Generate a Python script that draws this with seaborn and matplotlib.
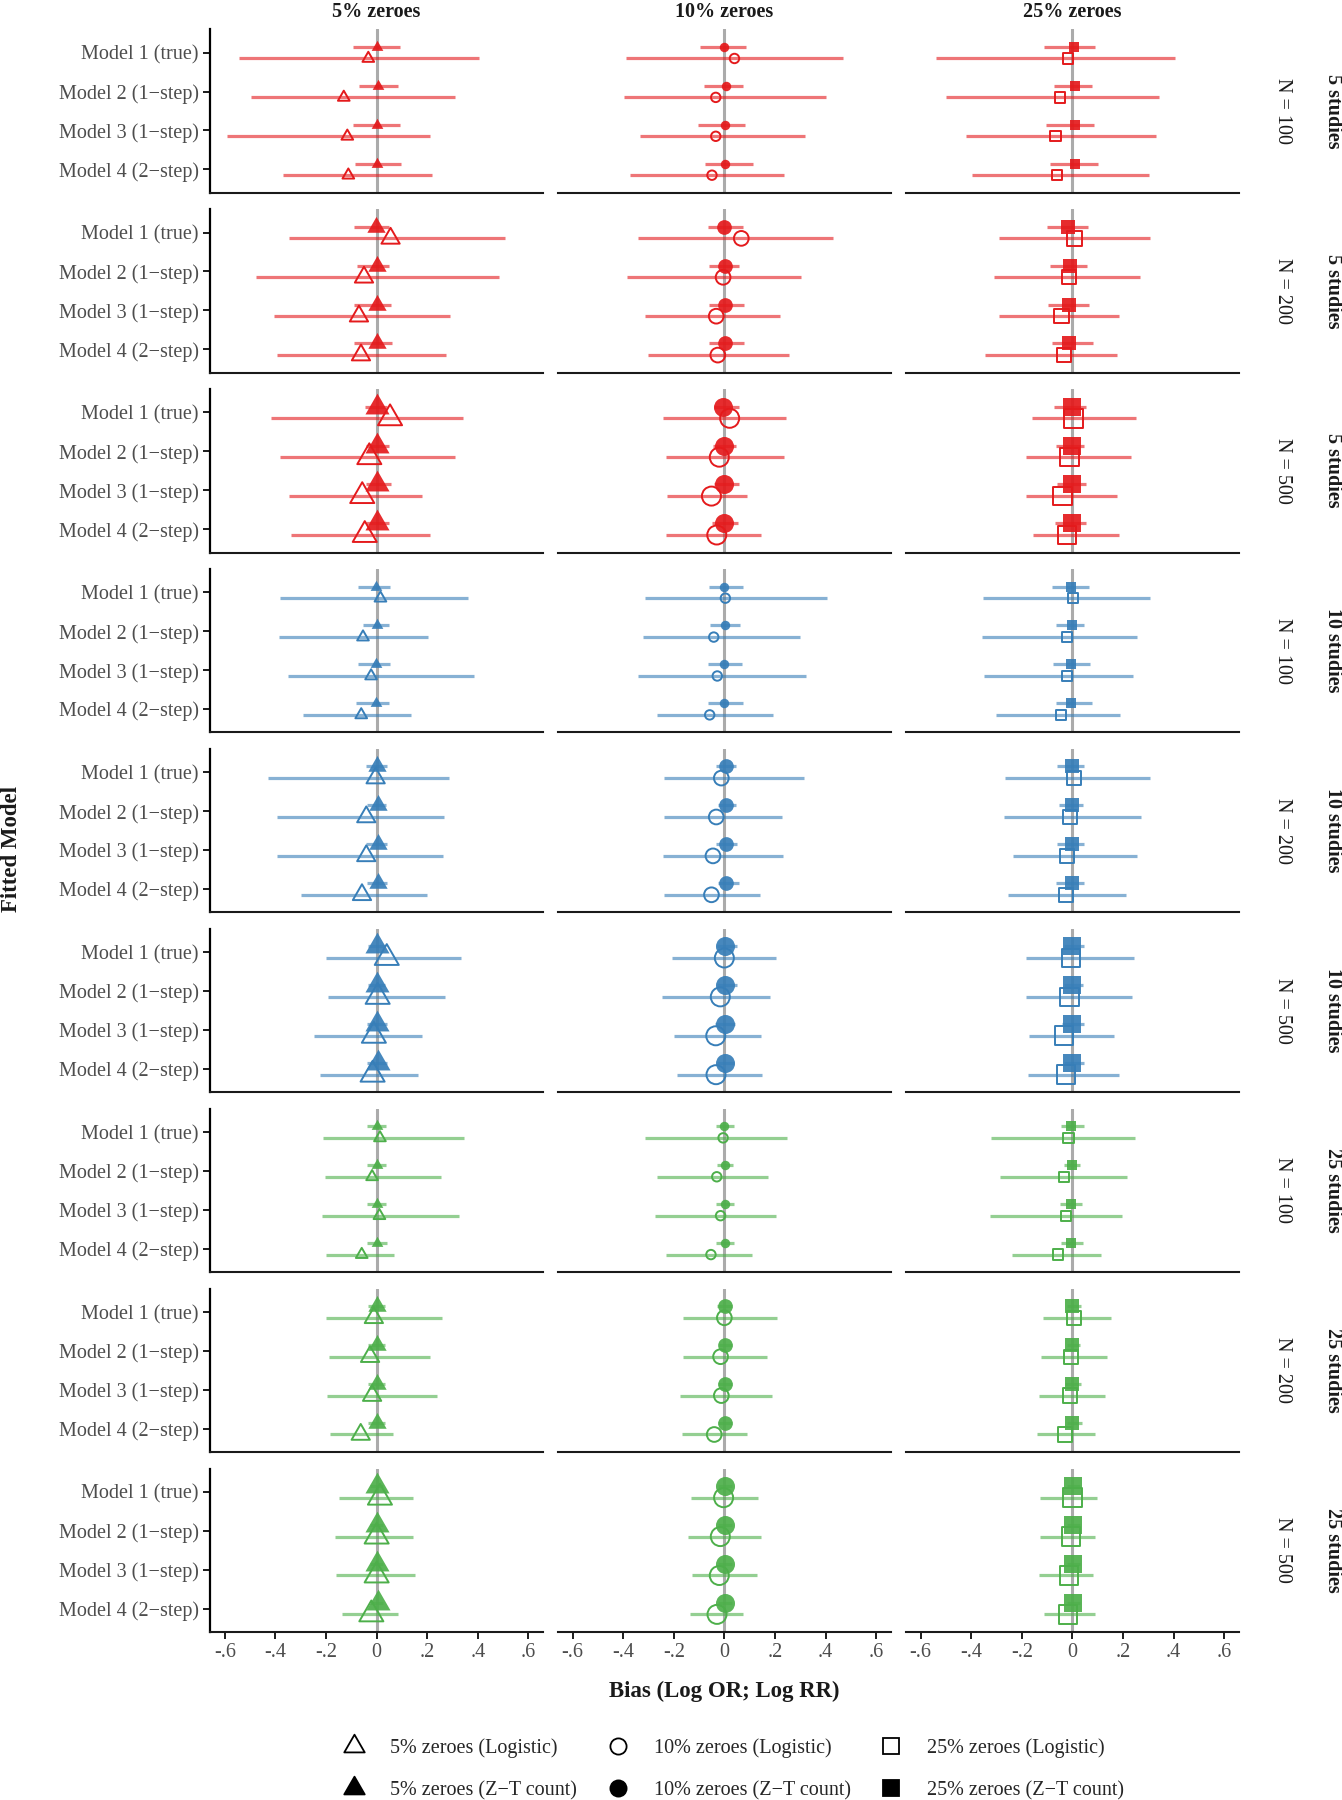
import numpy as np
import pandas as pd
import seaborn as sns
import matplotlib.pyplot as plt
from matplotlib.path import Path
from matplotlib.lines import Line2D

# ---------------------------------------------------------------------------
# data: rows = 9 facets (studies x N), cols = 4 models
# ---------------------------------------------------------------------------
models = ["Model 1 (true)", "Model 2 (1\u2212step)", "Model 3 (1\u2212step)", "Model 4 (2\u2212step)"]
zero_levels = ["5% zeroes", "10% zeroes", "25% zeroes"]
n_studies = ["5 studies"] * 3 + ["10 studies"] * 3 + ["25 studies"] * 3
sample_sizes = [100, 200, 500] * 3
methods = ["Logistic", "Z\u2212T count"]
x_ticks = [-0.6, -0.4, -0.2, 0, 0.2, 0.4, 0.6]
x_ticklabels = ["-.6", "-.4", "-.2", "0", ".2", ".4", ".6"]

# 5% zeroes
est_zt_5 = [[0.000, 0.004, 0.000, 0.000], [-0.004, 0.000, 0.000, 0.000], [0.000, 0.000, 0.000, 0.000],
            [-0.004, 0.000, -0.004, -0.004], [0.000, 0.004, 0.004, 0.004], [0.000, 0.000, 0.000, 0.004],
            [0.000, 0.000, 0.000, 0.000], [0.002, 0.002, 0.002, 0.002], [0.000, 0.000, 0.000, 0.004]]
lo_zt_5 = [[-0.092, -0.071, -0.092, -0.086], [-0.088, -0.078, -0.088, -0.088], [-0.046, -0.044, -0.044, -0.044],
           [-0.073, -0.055, -0.073, -0.080], [-0.042, -0.040, -0.044, -0.040], [-0.033, -0.033, -0.040, -0.040],
           [-0.040, -0.040, -0.040, -0.040], [-0.033, -0.033, -0.033, -0.033], [-0.026, -0.026, -0.026, -0.026]]
hi_zt_5 = [[0.092, 0.086, 0.092, 0.096], [0.050, 0.050, 0.055, 0.062], [0.040, 0.049, 0.055, 0.050],
           [0.053, 0.049, 0.053, 0.050], [0.040, 0.036, 0.040, 0.040], [0.033, 0.033, 0.040, 0.040],
           [0.037, 0.037, 0.037, 0.040], [0.033, 0.033, 0.033, 0.033], [0.026, 0.026, 0.026, 0.026]]
est_lg_5 = [[-0.033, -0.130, -0.116, -0.112], [0.055, -0.050, -0.070, -0.062], [0.053, -0.029, -0.057, -0.047],
            [0.015, -0.054, -0.022, -0.061], [-0.004, -0.041, -0.041, -0.058], [0.040, 0.004, -0.011, -0.016],
            [0.013, -0.018, 0.011, -0.059], [-0.011, -0.026, -0.018, -0.063], [0.013, 0.000, 0.000, -0.021]]
lo_lg_5 = [[-0.543, -0.497, -0.591, -0.372], [-0.348, -0.477, -0.405, -0.396], [-0.418, -0.382, -0.348, -0.338],
           [-0.382, -0.387, -0.352, -0.293], [-0.429, -0.396, -0.394, -0.300], [-0.202, -0.191, -0.248, -0.224],
           [-0.214, -0.204, -0.218, -0.200], [-0.200, -0.187, -0.195, -0.185], [-0.148, -0.165, -0.162, -0.138]]
hi_lg_5 = [[0.403, 0.311, 0.211, 0.220], [0.508, 0.485, 0.290, 0.273], [0.340, 0.311, 0.181, 0.210],
           [0.363, 0.202, 0.385, 0.137], [0.287, 0.266, 0.264, 0.198], [0.334, 0.270, 0.181, 0.162],
           [0.346, 0.255, 0.327, 0.069], [0.258, 0.210, 0.240, 0.065], [0.145, 0.142, 0.151, 0.086]]

# 10% zeroes
est_zt_10 = [[0.000, 0.007, 0.004, 0.004], [0.000, 0.004, 0.003, 0.003], [-0.005, -0.003, -0.003, -0.003],
             [0.000, 0.001, -0.001, -0.001], [0.007, 0.007, 0.007, 0.007], [0.001, 0.003, 0.001, 0.001],
             [0.000, 0.003, 0.001, 0.001], [0.003, 0.004, 0.004, 0.004], [0.003, 0.003, 0.003, 0.003]]
lo_zt_10 = [[-0.098, -0.082, -0.105, -0.078], [-0.064, -0.061, -0.062, -0.062], [-0.042, -0.045, -0.042, -0.049],
            [-0.061, -0.055, -0.063, -0.065], [-0.033, -0.026, -0.032, -0.026], [-0.030, -0.029, -0.036, -0.030],
            [-0.032, -0.029, -0.032, -0.032], [-0.029, -0.023, -0.025, -0.025], [-0.025, -0.025, -0.025, -0.025]]
hi_zt_10 = [[0.084, 0.072, 0.082, 0.112], [0.073, 0.059, 0.077, 0.079], [0.058, 0.048, 0.058, 0.053],
            [0.074, 0.061, 0.070, 0.075], [0.047, 0.045, 0.050, 0.059], [0.050, 0.050, 0.043, 0.040],
            [0.037, 0.034, 0.040, 0.040], [0.030, 0.030, 0.030, 0.030], [0.030, 0.030, 0.030, 0.030]]
est_lg_10 = [[0.040, -0.034, -0.034, -0.049], [0.067, -0.005, -0.032, -0.026], [0.021, -0.020, -0.051, -0.030],
             [0.004, -0.042, -0.028, -0.058], [-0.012, -0.032, -0.045, -0.051], [0.000, -0.016, -0.034, -0.033],
             [-0.005, -0.030, -0.015, -0.053], [0.000, -0.015, -0.012, -0.040], [-0.003, -0.016, -0.020, -0.029]]
lo_lg_10 = [[-0.389, -0.398, -0.332, -0.375], [-0.342, -0.385, -0.313, -0.303], [-0.244, -0.230, -0.227, -0.230],
            [-0.313, -0.322, -0.342, -0.268], [-0.237, -0.240, -0.243, -0.237], [-0.206, -0.245, -0.200, -0.187],
            [-0.313, -0.266, -0.276, -0.231], [-0.162, -0.162, -0.176, -0.166], [-0.131, -0.143, -0.128, -0.136]]
hi_lg_10 = [[0.468, 0.403, 0.319, 0.236], [0.431, 0.302, 0.222, 0.254], [0.244, 0.236, 0.088, 0.146],
            [0.404, 0.299, 0.322, 0.192], [0.314, 0.226, 0.231, 0.140], [0.204, 0.182, 0.144, 0.149],
            [0.248, 0.172, 0.203, 0.110], [0.210, 0.170, 0.188, 0.090], [0.132, 0.143, 0.128, 0.073]]

# 25% zeroes
est_zt_25 = [[0.005, 0.009, 0.009, 0.009], [-0.016, -0.008, -0.013, -0.013], [-0.003, 0.000, 0.000, -0.001],
             [-0.005, -0.001, -0.004, -0.004], [-0.003, 0.000, -0.003, -0.001], [-0.003, -0.001, -0.003, -0.003],
             [-0.004, 0.000, -0.004, -0.004], [-0.001, 0.000, -0.001, 0.000], [0.001, 0.001, 0.001, 0.001]]
lo_zt_25 = [[-0.112, -0.073, -0.106, -0.090], [-0.100, -0.090, -0.096, -0.079], [-0.071, -0.065, -0.062, -0.069],
            [-0.080, -0.064, -0.077, -0.063], [-0.061, -0.051, -0.061, -0.063], [-0.034, -0.034, -0.040, -0.034],
            [-0.045, -0.034, -0.047, -0.046], [-0.021, -0.021, -0.030, -0.021], [-0.020, -0.020, -0.020, -0.020]]
hi_zt_25 = [[0.091, 0.078, 0.087, 0.103], [0.061, 0.058, 0.064, 0.082], [0.054, 0.046, 0.054, 0.055],
            [0.067, 0.046, 0.069, 0.079], [0.045, 0.041, 0.046, 0.048], [0.047, 0.042, 0.045, 0.047],
            [0.045, 0.029, 0.040, 0.042], [0.034, 0.029, 0.034, 0.038], [0.030, 0.030, 0.030, 0.030]]
est_lg_25 = [[-0.016, -0.050, -0.067, -0.061], [0.009, -0.013, -0.043, -0.033], [0.004, -0.012, -0.040, -0.021],
             [0.003, -0.022, -0.022, -0.045], [0.007, -0.008, -0.022, -0.025], [-0.005, -0.012, -0.033, -0.025],
             [-0.015, -0.032, -0.024, -0.057], [0.007, -0.005, -0.008, -0.029], [0.000, -0.005, -0.013, -0.017]]
lo_lg_25 = [[-0.538, -0.500, -0.419, -0.396], [-0.292, -0.308, -0.289, -0.344], [-0.160, -0.183, -0.184, -0.157],
            [-0.353, -0.358, -0.351, -0.300], [-0.268, -0.272, -0.236, -0.255], [-0.183, -0.185, -0.170, -0.177],
            [-0.320, -0.287, -0.324, -0.240], [-0.116, -0.125, -0.131, -0.138], [-0.127, -0.127, -0.132, -0.113]]
hi_lg_25 = [[0.404, 0.343, 0.332, 0.302], [0.309, 0.269, 0.184, 0.175], [0.253, 0.232, 0.177, 0.184],
            [0.309, 0.257, 0.240, 0.190], [0.306, 0.272, 0.257, 0.211], [0.243, 0.236, 0.164, 0.185],
            [0.248, 0.216, 0.195, 0.112], [0.154, 0.137, 0.129, 0.090], [0.098, 0.090, 0.082, 0.090]]

tables = {
    ("5% zeroes", "Z\u2212T count"): (est_zt_5, lo_zt_5, hi_zt_5),
    ("5% zeroes", "Logistic"): (est_lg_5, lo_lg_5, hi_lg_5),
    ("10% zeroes", "Z\u2212T count"): (est_zt_10, lo_zt_10, hi_zt_10),
    ("10% zeroes", "Logistic"): (est_lg_10, lo_lg_10, hi_lg_10),
    ("25% zeroes", "Z\u2212T count"): (est_zt_25, lo_zt_25, hi_zt_25),
    ("25% zeroes", "Logistic"): (est_lg_25, lo_lg_25, hi_lg_25),
}

records = []
for (zl, meth), (e, lo, hi) in tables.items():
    for r in range(9):
        for m in range(4):
            records.append(dict(zeroes=zl, method=meth, row=r, studies=n_studies[r],
                                N=sample_sizes[r], model=models[m], pos=m + 1,
                                est=e[r][m], lo=lo[r][m], hi=hi[r][m]))
df = pd.DataFrame(records)
# dodge: Z-T count above, logistic below
df["y"] = df["pos"] + np.where(df["method"] == "Logistic", 0.15, -0.15)

# ---------------------------------------------------------------------------
# styling
# ---------------------------------------------------------------------------
sns.set_theme(style="white")
plt.rcParams["font.family"] = ["Liberation Serif", "DejaVu Serif"]

colors = {"5 studies": "#E41A1C", "10 studies": "#377EB8", "25 studies": "#4DAF4A"}
tri = Path([(0, 0.577), (-0.5, -0.289), (0.5, -0.289), (0, 0.577)], closed=True)
markers = {"5% zeroes": tri, "10% zeroes": "o", "25% zeroes": "s"}
msize = {"5% zeroes": {100: 9.7, 200: 15.2, 500: 20.0},
         "10% zeroes": {100: 6.8, 200: 10.6, 500: 13.7},
         "25% zeroes": {100: 7.4, 200: 10.3, 500: 13.4}}

W, H = 1342, 1800
fig = plt.figure(figsize=(W / 100, H / 100), dpi=100)
col_left = [210, 557.7, 905.7]
pw = 333.3
top0, rstep, ph = 29.3, 179.9, 163.4
grey_txt = "#4d4d4d"

for r in range(9):
    top = top0 + r * rstep
    for c, zl in enumerate(zero_levels):
        ax = fig.add_axes([col_left[c] / W, 1 - (top + ph) / H, pw / W, ph / H])
        sub = df[(df["row"] == r) & (df["zeroes"] == zl)]
        col = colors[n_studies[r]]
        mk = markers[zl]
        sz = msize[zl][sample_sizes[r]]

        ax.axvline(0, color="#ababab", lw=2.2, zorder=0)
        for meth in methods:
            s = sub[sub["method"] == meth]
            ax.hlines(s["y"], s["lo"], s["hi"], color=col, alpha=0.6, lw=2.3, zorder=1)

        zt = sub[sub["method"] == "Z\u2212T count"]
        sns.scatterplot(data=zt, x="est", y="y", marker=mk, s=sz ** 2, color=col,
                        linewidth=0, alpha=0.92, ax=ax, legend=False, zorder=3)
        lg = sub[sub["method"] == "Logistic"]
        ax.scatter(lg["est"], lg["y"], marker=mk, s=sz ** 2, facecolors="none",
                   edgecolors=col, linewidths=1.4, zorder=4)

        ax.set_xlim(-0.659, 0.659)
        ax.set_ylim(4.6, 0.4)
        ax.set_xlabel("")
        ax.set_ylabel("")
        ax.set_xticks(x_ticks)
        ax.set_yticks([1, 2, 3, 4])
        sns.despine(ax=ax, left=(c != 0))
        ax.spines["bottom"].set_linewidth(1.5)
        ax.spines["bottom"].set_color("#1a1a1a")
        if c == 0:
            ax.spines["left"].set_linewidth(1.6)
            ax.spines["left"].set_color("#000000")
            ax.set_yticklabels(models, fontsize=14.5, color=grey_txt)
            ax.tick_params(axis="y", length=5, width=1.4, color="#1a1a1a", pad=3, left=True)
        else:
            ax.set_yticklabels([])
            ax.tick_params(axis="y", length=0)
        if r == 8:
            ax.set_xticklabels(x_ticklabels, fontsize=14.5, color=grey_txt)
            ax.tick_params(axis="x", length=5, width=1.4, color="#1a1a1a", pad=3, bottom=True)
        else:
            ax.set_xticklabels([])
            ax.tick_params(axis="x", length=0)

        if r == 0:
            fig.text((col_left[c] + pw / 2) / W, 1 - 12 / H, zl, ha="center", va="center",
                     fontsize=14.5, fontweight="bold", color="#1a1a1a")
    yc = 1 - (top + ph / 2) / H
    fig.text(1282 / W, yc, "N = %d" % sample_sizes[r], rotation=-90, ha="center", va="center",
             fontsize=14.5, color="#1a1a1a")
    fig.text(1333 / W, yc, n_studies[r], rotation=-90, ha="center", va="center",
             fontsize=14.5, fontweight="bold", color="#1a1a1a")

fig.text(12 / W, 1 - 849 / H, "Fitted Model", rotation=90, ha="center", va="center",
         fontsize=16.5, fontweight="bold", color="#1a1a1a")
fig.text(724 / W, 1 - 1691 / H, "Bias (Log OR; Log RR)", ha="center", va="center",
         fontsize=16.5, fontweight="bold", color="#1a1a1a")

# legend: hollow = Logistic, filled = Z-T count
handles, labels = [], []
for zl in zero_levels:
    for meth in methods:
        fc = "none" if meth == "Logistic" else "black"
        ms = msize[zl][500] * 0.85
        handles.append(Line2D([], [], marker=markers[zl], linestyle="none", markersize=ms,
                              markerfacecolor=fc, markeredgecolor="black", markeredgewidth=1.3))
        labels.append("%s (%s)" % (zl, meth))
fig.legend(handles, labels, ncol=3, loc="upper left", bbox_to_anchor=(334 / W, 1 - 1738 / H),
           frameon=False, fontsize=14.5, columnspacing=1.0, handletextpad=0.8,
           labelspacing=1.15, borderpad=0, borderaxespad=0, handlelength=2.0)

fig.savefig("out.png", dpi=100)
